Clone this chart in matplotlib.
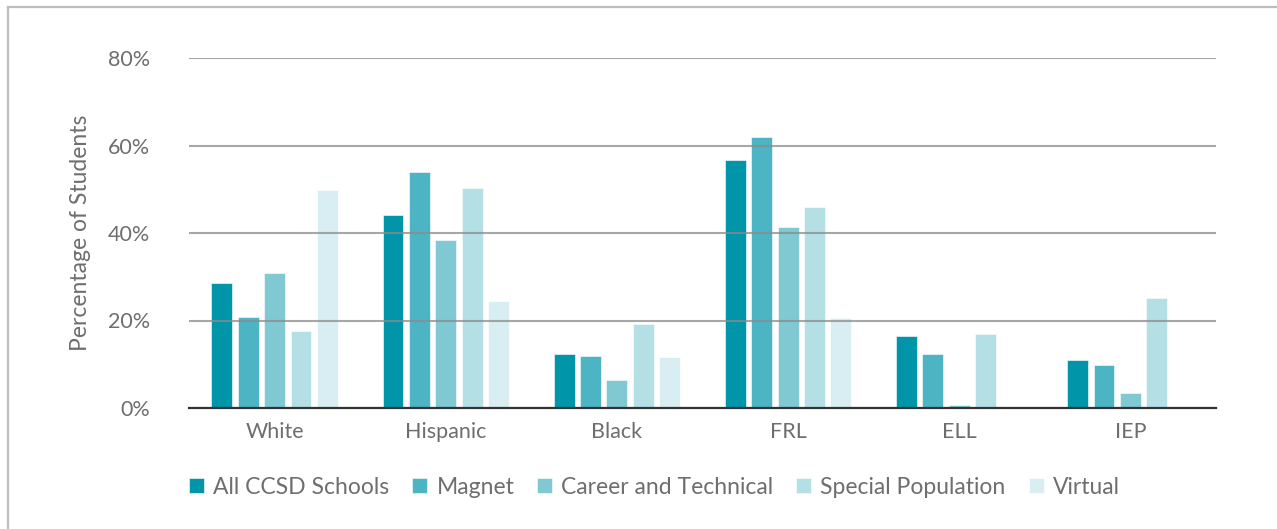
import matplotlib.pyplot as plt
import numpy as np
from matplotlib.lines import Line2D

plt.rcParams['font.family'] = ['Lato', 'DejaVu Sans']

categories = ['White', 'Hispanic', 'Black', 'FRL', 'ELL', 'IEP']
series = ['All CCSD Schools', 'Magnet', 'Career and Technical', 'Special Population', 'Virtual']
all_ccsd = [28.6, 44.1, 12.3, 56.6, 16.5, 11.0]
magnet = [20.7, 53.9, 12.0, 61.9, 12.3, 9.8]
career_tech = [30.9, 38.5, 6.4, 41.4, 0.7, 3.4]
special_pop = [17.7, 50.2, 19.2, 45.9, 16.9, 25.2]
virtual = [49.8, 24.5, 11.7, 20.6, 0, 0]
yticks = [0, 20, 40, 60, 80]
colors = ['#0095a8', '#4db4c3', '#80c8d2', '#b4dfe5', '#d9eef2']

values = [all_ccsd, magnet, career_tech, special_pop, virtual]

fig = plt.figure(figsize=(12.77, 5.29), dpi=100)
ax = fig.add_axes([189 / 1277, 1 - 408 / 529, 1027 / 1277, 350 / 529])

x = np.arange(len(categories))
pitch = 0.154
width = 0.122
for i, (vals, name) in enumerate(zip(values, series)):
    ax.bar(x + (i - 2) * pitch, vals, width, color=colors[i], label=name, zorder=2,
           edgecolor='white', linewidth=0.4)

ax.set_xlim(-0.5, len(categories) - 0.5)
ax.set_ylim(0, 80)
ax.set_yticks(yticks)
ax.set_yticklabels([f'{t}%' for t in yticks])
ax.set_xticks(x)
ax.set_xticklabels(categories)
ax.tick_params(length=0, labelsize=15.5, colors='#6e6e6e')
ax.tick_params(axis='y', pad=28)
ax.tick_params(axis='x', pad=10)

ax.grid(axis='y', color='#8a8a8a', alpha=0.75, linewidth=1.5, zorder=3)
ax.set_axisbelow(False)
for s in ['top', 'right', 'left']:
    ax.spines[s].set_visible(False)
ax.spines['bottom'].set_color('#333333')
ax.spines['bottom'].set_linewidth(1.6)
ax.spines['bottom'].set_zorder(4)

ax.set_ylabel('Percentage of Students', fontsize=16.5, color='#6e6e6e', labelpad=12)

leg = fig.legend(loc='center', bbox_to_anchor=(654.5 / 1277, 1 - 487 / 529), ncol=5, frameon=False,
                 fontsize=16.5, handlelength=0.65, handleheight=0.65, handletextpad=0.4,
                 columnspacing=1.0)
for t in leg.get_texts():
    t.set_color('#6e6e6e')

# frame around the figure (only top and left edges show)
fig.add_artist(Line2D([8 / 1277, 1], [1 - 6.5 / 529] * 2, color='#bdbdbd', lw=1.6,
                      transform=fig.transFigure))
fig.add_artist(Line2D([8 / 1277] * 2, [0, 1 - 6.5 / 529], color='#bdbdbd', lw=1.6,
                      transform=fig.transFigure))

fig.savefig('out.png', dpi=100)
